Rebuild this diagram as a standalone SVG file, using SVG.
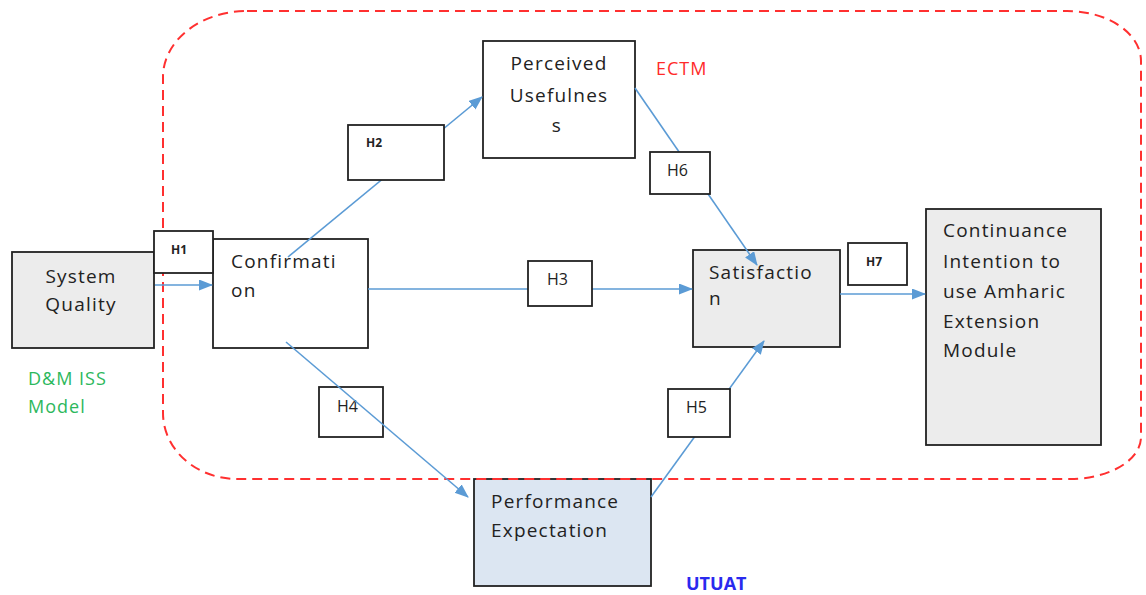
<svg xmlns="http://www.w3.org/2000/svg" width="1146" height="595" viewBox="0 0 1146 595">
<style>
.box{stroke:#222;stroke-width:1.8;fill:#fff}
.grey{fill:#ececec}
.blue{fill:#dce6f2}
.t{font-family:"Open Sans","Liberation Sans",sans-serif;font-size:19px;fill:#222;letter-spacing:1.2px}
.h{font-family:"Open Sans","Liberation Sans",sans-serif;font-size:16px;fill:#222}
.hs{font-family:"Open Sans","Liberation Sans",sans-serif;font-size:12px;font-weight:bold;fill:#222}
.c{stroke:#5b9bd5;stroke-width:1.6;fill:none}
</style>
<defs>
<marker id="arr" markerUnits="userSpaceOnUse" markerWidth="14" markerHeight="12" refX="13" refY="5.5" orient="auto">
<path d="M0,0 L14,5.5 L0,11 z" fill="#5b9bd5"/>
</marker>
</defs>
<g id="sq">
<rect class="box grey" x="12" y="252" width="142" height="96"/>
<text class="t" x="81" y="283" text-anchor="middle">System</text>
<text class="t" x="81" y="311" text-anchor="middle">Quality</text>
</g>
<g id="conf">
<rect class="box" x="213" y="239" width="155" height="109"/>
<text class="t" x="231" y="268">Confirmati</text>
<text class="t" x="231" y="297">on</text>
</g>
<g id="pu">
<rect class="box" x="483" y="41" width="152" height="117"/>
<text class="t" x="559" y="70" text-anchor="middle">Perceived</text>
<text class="t" x="559" y="102" text-anchor="middle">Usefulnes</text>
<text class="t" x="557" y="132" text-anchor="middle">s</text>
</g>
<g id="sat">
<rect class="box grey" x="693" y="250" width="147" height="97"/>
<text class="t" x="709" y="279">Satisfactio</text>
<text class="t" x="709" y="305">n</text>
</g>
<g id="ci">
<rect class="box grey" x="926" y="209" width="175" height="236"/>
<text class="t" x="943" y="237">Continuance</text>
<text class="t" x="943" y="268">Intention to</text>
<text class="t" x="943" y="298">use Amharic</text>
<text class="t" x="943" y="328">Extension</text>
<text class="t" x="943" y="357">Module</text>
</g>
<g id="pe">
<rect class="box blue" x="474" y="479" width="177" height="107"/>
<text class="t" x="491" y="508">Performance</text>
<text class="t" x="491" y="537">Expectation</text>
</g>
<g id="h4">
<rect class="box" x="319" y="387" width="64" height="50"/>
<text class="h" x="337" y="412">H4</text>
</g>
<g id="ectm-boundary">
<path d="M247 11 H1067 A74 50 0 0 1 1141 61 V437 A71 42 0 0 1 1070 479 H237 A74 66 0 0 1 163 413 V77 A84 66 0 0 1 247 11 Z" fill="none" stroke="#ff3030" stroke-width="2" stroke-dasharray="10 6"/>
</g>
<g id="connectors">
<line class="c" x1="155" y1="285" x2="212" y2="285" marker-end="url(#arr)"/>
<line class="c" x1="288" y1="257" x2="482" y2="97" marker-end="url(#arr)"/>
<line class="c" x1="368" y1="289" x2="692" y2="289" marker-end="url(#arr)"/>
<line class="c" x1="635" y1="88" x2="757" y2="265" marker-end="url(#arr)"/>
<line class="c" x1="651" y1="497" x2="764" y2="341" marker-end="url(#arr)"/>
<line class="c" x1="286" y1="342" x2="468" y2="497" marker-end="url(#arr)"/>
<line class="c" x1="840" y1="294" x2="925" y2="294" marker-end="url(#arr)"/>
</g>
<g id="h1">
<rect class="box" x="154" y="231" width="59" height="42"/>
<text class="hs" x="171" y="254">H1</text>
</g>
<g id="h2">
<rect class="box" x="348" y="125" width="96" height="55"/>
<text class="hs" x="366" y="147">H2</text>
</g>
<g id="h6">
<rect class="box" x="650" y="152" width="60" height="42"/>
<text class="h" x="667" y="176">H6</text>
</g>
<g id="h3">
<rect class="box" x="528" y="261" width="64" height="45"/>
<text class="h" x="547" y="285">H3</text>
</g>
<g id="h7">
<rect class="box" x="848" y="243" width="59" height="42"/>
<text class="hs" x="866" y="266">H7</text>
</g>
<g id="h5">
<rect class="box" x="668" y="389" width="62" height="48"/>
<text class="h" x="686" y="413">H5</text>
</g>
<g id="labels">
<text x="656" y="75" font-family="Open Sans, Liberation Sans, sans-serif" font-size="18" fill="#ff2a2a" letter-spacing="1">ECTM</text>
<text x="686" y="590" font-family="Open Sans, Liberation Sans, sans-serif" font-size="18" font-weight="bold" fill="#2a2aee">UTUAT</text>
<text x="28" y="385" font-family="Open Sans, Liberation Sans, sans-serif" font-size="18" fill="#2cb85c" letter-spacing="1">D&amp;M ISS</text>
<text x="28" y="413" font-family="Open Sans, Liberation Sans, sans-serif" font-size="18" fill="#2cb85c" letter-spacing="1">Model</text>
</g>
</svg>
